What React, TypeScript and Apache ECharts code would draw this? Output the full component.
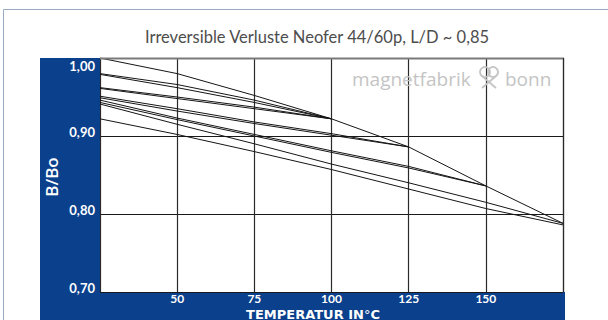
import React, { useEffect, useRef } from 'react';
import * as echarts from 'echarts';

// Temperatures (°C) of the data points
const temperatures = [25, 50, 75, 100, 125, 150, 175];

// B/Bo curves (each ends where it joins the envelope)
const curve1 = [1.0, 0.98, 0.952, 0.922, 0.886, 0.836, 0.788];
const curve2 = [0.98, 0.966, 0.946, 0.922];
const curve3 = [0.979, 0.962, 0.943, 0.922];
const curve4 = [0.962, 0.95, 0.937, 0.922];
const curve5 = [0.961, 0.948, 0.935, 0.922];
const curve6 = [0.951, 0.935, 0.918, 0.903, 0.886];
const curve7 = [0.949, 0.932, 0.916, 0.901, 0.886];
const curve8 = [0.946, 0.923, 0.902, 0.881, 0.861, 0.836];
const curve9 = [0.943, 0.921, 0.9, 0.879, 0.859, 0.836];
const curve10 = [0.941, 0.915, 0.89, 0.864, 0.84, 0.815, 0.788];
const curve11 = [0.922, 0.902, 0.88, 0.857, 0.832, 0.807, 0.786];

const curves = [curve1, curve2, curve3, curve4, curve5, curve6, curve7, curve8, curve9, curve10, curve11];

const xTickLabels = ['', '50', '75', '100', '125', '150', ''];
const yTickLabels = ['0,70', '0,80', '0,90', '1,00'];

const titleText = 'Irreversible Verluste Neofer 44/60p, L/D ~ 0,85';
const yAxisTitle = 'B/Bo';
const BLUE = '#0a408c';

export default function App() {
  const ref = useRef<HTMLDivElement>(null);
  useEffect(() => {
    if (!ref.current) return;
    const chart = echarts.init(ref.current, null, { renderer: 'svg' });
    const series = curves.map((c) => ({
      type: 'line',
      data: c.map((v, i) => [temperatures[i], v]),
      showSymbol: false,
      symbol: 'none',
      lineStyle: { color: '#151515', width: 1 },
      z: 3,
      silent: true,
    }));
    chart.setOption({
      animation: false,
      backgroundColor: '#ffffff',
      grid: { left: 100, top: 58, right: 45, bottom: 28, containLabel: false },
      xAxis: {
        type: 'value',
        min: 25,
        max: 175,
        interval: 25,
        axisLine: { show: false },
        axisTick: { show: false },
        splitLine: { show: true, lineStyle: { color: '#2a2a2a', width: 1.2 } },
        axisLabel: {
          color: '#ffffff',
          fontFamily: 'Lato',
          fontWeight: 'bold',
          fontSize: 12,
          lineHeight: 11,
          margin: 1,
          formatter: (v: number) => xTickLabels[Math.round((v - 25) / 25)] || '',
        },
      },
      yAxis: {
        type: 'value',
        min: 0.7,
        max: 1.0,
        interval: 0.1,
        axisLine: { show: false },
        axisTick: { show: false },
        splitLine: { show: true, lineStyle: { color: '#1a1a1a', width: 1.2 } },
        axisLabel: {
          color: '#ffffff',
          fontFamily: 'Lato',
          fontWeight: 'bold',
          fontSize: 13,
          margin: 5,
          formatter: (v: number) => {
            const i = Math.round((v - 0.7) / 0.1);
            const s = yTickLabels[i] || '';
            return i === 3 ? `{t|${s}}` : `{n|${s}}`;
          },
          rich: {
            t: { color: '#ffffff', fontFamily: 'Lato', fontWeight: 'bold', fontSize: 13, padding: [16, 0, 0, 0] },
            n: { color: '#ffffff', fontFamily: 'Lato', fontWeight: 'bold', fontSize: 13, padding: [0, 0, 9, 0] },
          },
        },
      },
      graphic: [
        { type: 'rect', shape: { x: 3.5, y: 9.5, width: 700, height: 400 }, style: { fill: 'none', stroke: '#9aabc4', lineWidth: 1 }, z: 0 },
        { type: 'rect', shape: { x: 40, y: 58, width: 60, height: 262 }, style: { fill: BLUE }, z: 0 },
        { type: 'rect', shape: { x: 40, y: 292, width: 525, height: 28 }, style: { fill: BLUE }, z: 0 },
        { type: 'line', shape: { x1: 100, y1: 58.5, x2: 564, y2: 58.5 }, style: { stroke: '#7a7a7a', lineWidth: 2 }, z: 10 },
        { type: 'line', shape: { x1: 563.5, y1: 58, x2: 563.5, y2: 292 }, style: { stroke: '#2a2a2a', lineWidth: 1.2 }, z: 10 },
        {
          type: 'text', x: 317, y: 37,
          style: { text: titleText, fill: '#4d4d4d', font: '16.5px Lato', align: 'center', verticalAlign: 'middle' },
        },
        {
          type: 'text', x: 51, y: 177, rotation: Math.PI / 2,
          style: { text: yAxisTitle, fill: '#ffffff', font: '600 17px "Open Sans"', align: 'center', verticalAlign: 'middle' },
        },
        {
          type: 'text', x: 313, y: 314,
          style: {
            text: '{a|TEMPERATUR }{b|IN}{c|°}{d|C}',
            align: 'center', verticalAlign: 'middle',
            rich: {
              a: { fill: '#ffffff', font: 'bold 13px "DejaVu Sans"', lineHeight: 11 },
              b: { fill: '#ffffff', font: 'bold 13px "DejaVu Sans"', lineHeight: 11 },
              c: { fill: '#ffffff', font: '13px "DejaVu Sans"', lineHeight: 11 },
              d: { fill: '#ffffff', font: 'bold 13px "DejaVu Sans"', lineHeight: 11 },
            },
          },
        },
        {
          type: 'text', x: 352, y: 79,
          style: { text: 'magnetfabrik', fill: '#c4c4c4', font: '19px "Open Sans"', align: 'left', verticalAlign: 'middle' },
          z: 1,
        },
        { type: 'circle', shape: { cx: 485, cy: 72, r: 5 }, style: { fill: 'none', stroke: '#c4c4c4', lineWidth: 1.8 }, z: 1 },
        { type: 'circle', shape: { cx: 493, cy: 72, r: 5 }, style: { fill: 'none', stroke: '#c4c4c4', lineWidth: 1.8 }, z: 1 },
        { type: 'line', shape: { x1: 482, y1: 76, x2: 496, y2: 88 }, style: { stroke: '#c4c4c4', lineWidth: 1.8 }, z: 1 },
        { type: 'line', shape: { x1: 496, y1: 76, x2: 482, y2: 88 }, style: { stroke: '#c4c4c4', lineWidth: 1.8 }, z: 1 },
        {
          type: 'text', x: 505, y: 79,
          style: { text: 'bonn', fill: '#c4c4c4', font: '19px "Open Sans"', align: 'left', verticalAlign: 'middle' },
          z: 1,
        },
      ],
      series,
    });
    return () => chart.dispose();
  }, []);
  return <div ref={ref} style={{ position: 'fixed', left: 0, top: 0, width: 608, height: 320 }} />;
}
